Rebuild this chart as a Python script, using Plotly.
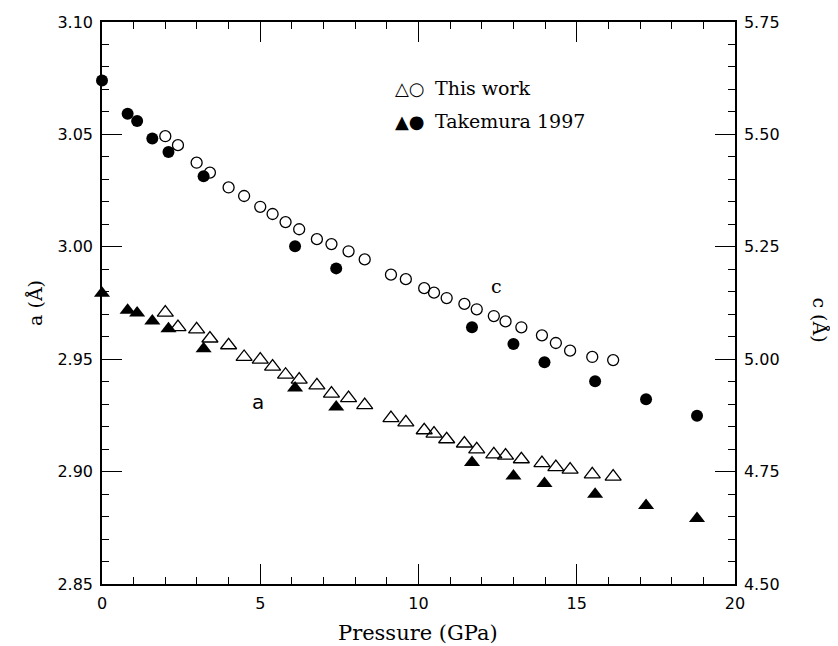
import plotly.graph_objects as go

# Takemura 1997 (filled symbols)
p_tak = [0.0, 0.81, 1.11, 1.59, 2.10, 3.21, 6.10, 7.40, 11.69, 13.00, 13.98, 15.58, 17.19, 18.80]
a_tak = [2.9793, 2.9718, 2.9706, 2.9670, 2.9636, 2.9547, 2.9372, 2.9287, 2.9041, 2.8980, 2.8947, 2.8899, 2.8849, 2.8791]
c_tak = [5.620, 5.546, 5.530, 5.491, 5.461, 5.407, 5.251, 5.202, 5.071, 5.034, 4.993, 4.951, 4.911, 4.874]

# This work (open symbols)
p_this = [2.00, 2.40, 2.99, 3.41, 4.00, 4.49, 5.00, 5.39, 5.80, 6.23, 6.79, 7.25, 7.79, 8.30,
          9.13, 9.60, 10.18, 10.49, 10.89, 11.45, 11.84, 12.38, 12.75, 13.25, 13.90, 14.34,
          14.79, 15.49, 16.15]
a_this = [2.9707, 2.9643, 2.9633, 2.9592, 2.9562, 2.9510, 2.9498, 2.9467, 2.9431, 2.9409,
          2.9384, 2.9347, 2.9327, 2.9296, 2.9238, 2.9219, 2.9184, 2.9169, 2.9144, 2.9125,
          2.9099, 2.9077, 2.9071, 2.9055, 2.9038, 2.9020, 2.9009, 2.8988, 2.8978]
c_this = [5.496, 5.476, 5.437, 5.415, 5.382, 5.363, 5.339, 5.323, 5.305, 5.289, 5.267, 5.256,
          5.240, 5.222, 5.188, 5.178, 5.158, 5.148, 5.136, 5.123, 5.111, 5.096, 5.084, 5.071,
          5.053, 5.036, 5.019, 5.005, 4.998]

x_ticks = [0, 5, 10, 15, 20]
a_ticks = [2.85, 2.90, 2.95, 3.00, 3.05, 3.10]
c_ticks = [4.50, 4.75, 5.00, 5.25, 5.50, 5.75]

fig = go.Figure()
fig.add_trace(go.Scatter(x=p_this, y=a_this, mode="markers", yaxis="y", cliponaxis=False,
                         marker=dict(symbol="triangle-up-open", size=14, color="black",
                                     line=dict(width=1.3, color="black")), showlegend=False))
fig.add_trace(go.Scatter(x=p_tak, y=a_tak, mode="markers", yaxis="y", cliponaxis=False,
                         marker=dict(symbol="triangle-up", size=14, color="black"), showlegend=False))
fig.add_trace(go.Scatter(x=p_this, y=c_this, mode="markers", yaxis="y2", cliponaxis=False,
                         marker=dict(symbol="circle-open", size=11, color="black",
                                     line=dict(width=1.3, color="black")), showlegend=False))
fig.add_trace(go.Scatter(x=p_tak, y=c_tak, mode="markers", yaxis="y2", cliponaxis=False,
                         marker=dict(symbol="circle", size=12, color="black"), showlegend=False))

tickfont = dict(family="DejaVu Sans", size=16, color="black")
serif = "DejaVu Serif"

axis_common = dict(showgrid=False, zeroline=False, showline=True, linecolor="black", linewidth=1.5,
                   ticks="inside", ticklen=20, tickwidth=1.2, tickcolor="black", tickfont=tickfont,
                   automargin=False)

# the page adds an 8px body margin, so the figure is sized 8px smaller
fig.update_layout(
    width=830, height=638,
    margin=dict(l=94, r=103, t=14, b=62, autoexpand=False),
    paper_bgcolor="white", plot_bgcolor="white",
    xaxis=dict(range=[0, 20], tickvals=x_ticks, ticktext=[str(v) for v in x_ticks],
               mirror="ticks", ticklabelstandoff=4,
               minor=dict(dtick=1, ticks="inside", ticklen=7, tickwidth=1.2, tickcolor="black"),
               **axis_common),
    yaxis=dict(range=[2.85, 3.10], tickvals=a_ticks, ticktext=["%.2f" % v for v in a_ticks],
               minor=dict(dtick=0.01, ticks="inside", ticklen=7, tickwidth=1.2, tickcolor="black"),
               ticklabelstandoff=4,
               **axis_common),
    yaxis2=dict(range=[4.50, 5.75], overlaying="y", side="right",
                tickvals=c_ticks, ticktext=["%.2f" % v for v in c_ticks],
                minor=dict(dtick=0.05, ticks="inside", ticklen=7, tickwidth=1.2, tickcolor="black"),
                ticklabelstandoff=4,
                **axis_common),
)

annotations = [
    dict(text="Pressure (GPa)", xref="paper", yref="paper", x=0.499, y=-0.087,
         xanchor="center", yanchor="middle", showarrow=False,
         font=dict(family=serif, size=21, color="black")),
    dict(text="a (Å)", xref="paper", yref="paper", x=-0.106, y=0.50, textangle=-90,
         xanchor="center", yanchor="middle", showarrow=False,
         font=dict(family=serif, size=19, color="black")),
    dict(text="c (Å)", xref="paper", yref="paper", x=1.135, y=0.47, textangle=90,
         xanchor="center", yanchor="middle", showarrow=False,
         font=dict(family=serif, size=19, color="black")),
    dict(text="c", xref="x", yref="y", x=12.45, y=2.9826, showarrow=False,
         xanchor="center", yanchor="middle", font=dict(family=serif, size=19, color="black")),
    dict(text="a", xref="x", yref="y", x=4.93, y=2.9310, showarrow=False,
         xanchor="center", yanchor="middle", font=dict(family="DejaVu Sans", size=20, color="black")),
    dict(text="△○", xref="x", yref="y", x=9.20, y=3.0705, showarrow=False,
         xanchor="left", yanchor="middle", font=dict(family="DejaVu Sans", size=18, color="black")),
    dict(text="▲●", xref="x", yref="y", x=9.20, y=3.0558, showarrow=False,
         xanchor="left", yanchor="middle", font=dict(family="DejaVu Sans", size=18, color="black")),
    dict(text="This work", xref="x", yref="y", x=10.46, y=3.0705, showarrow=False,
         xanchor="left", yanchor="middle", font=dict(family=serif, size=19, color="black")),
    dict(text="Takemura 1997", xref="x", yref="y", x=10.46, y=3.0558, showarrow=False,
         xanchor="left", yanchor="middle", font=dict(family=serif, size=19, color="black")),
]
fig.update_layout(annotations=annotations)

fig.write_html("out.html")
